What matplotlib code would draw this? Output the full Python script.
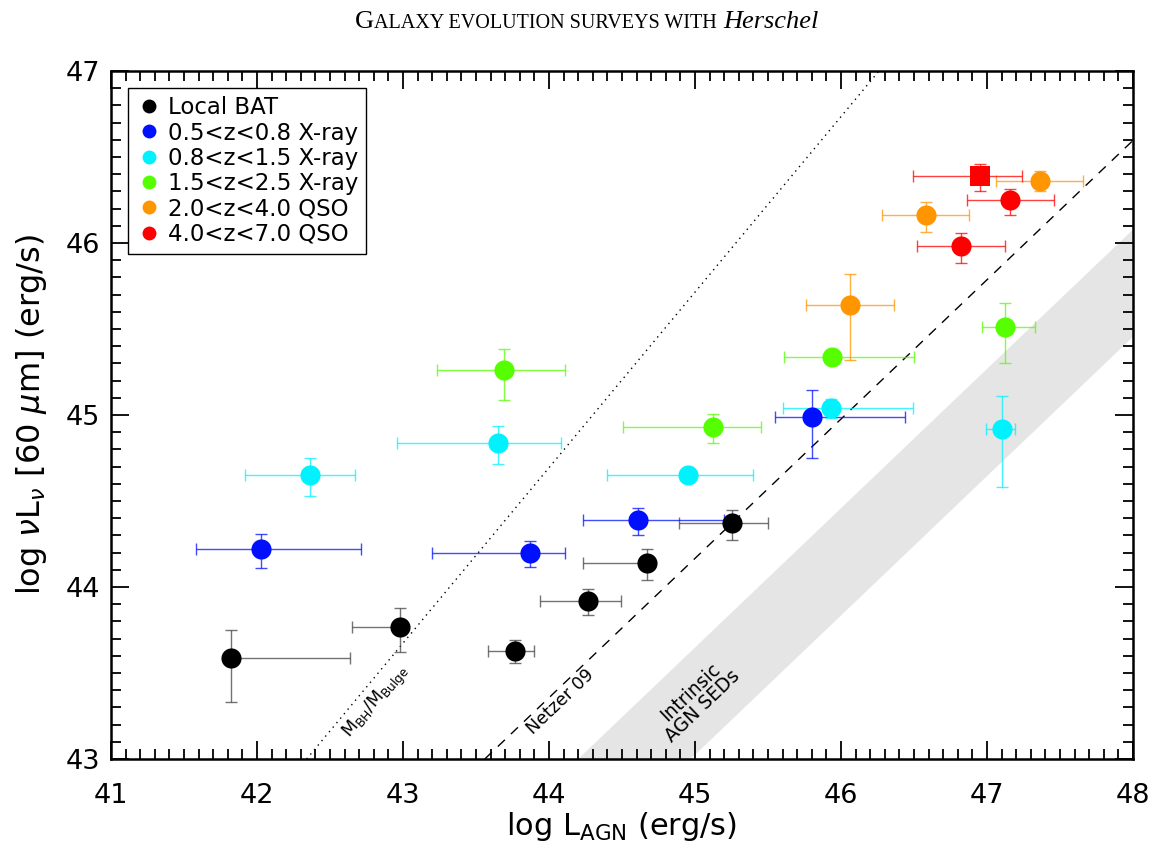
import matplotlib
matplotlib.use("Agg")
import matplotlib.pyplot as plt
import numpy as np
from matplotlib.ticker import MultipleLocator
from matplotlib.lines import Line2D

# ---------------- data ----------------
groups = ["Local BAT", "0.5<z<0.8 X-ray", "0.8<z<1.5 X-ray",
          "1.5<z<2.5 X-ray", "2.0<z<4.0 QSO", "4.0<z<7.0 QSO"]
colors = ["#000000", "#0010FF", "#00F2FF", "#55FF00", "#FF9600", "#FF0000"]

bat_x   = [41.82, 42.98, 43.77, 44.27, 44.67, 45.25]
bat_y   = [43.59, 43.77, 43.63, 43.92, 44.14, 44.37]
bat_xlo = [0.00, 0.33, 0.19, 0.33, 0.44, 0.36]
bat_xhi = [0.82, 0.00, 0.13, 0.22, 0.00, 0.25]
bat_ylo = [0.26, 0.15, 0.07, 0.085, 0.10, 0.095]
bat_yhi = [0.16, 0.11, 0.06, 0.07, 0.08, 0.075]

lz_x   = [42.03, 43.87, 44.61, 45.80]
lz_y   = [44.22, 44.20, 44.39, 44.99]
lz_xlo = [0.45, 0.67, 0.38, 0.25]
lz_xhi = [0.68, 0.24, 0.59, 0.64]
lz_ylo = [0.11, 0.085, 0.09, 0.24]
lz_yhi = [0.09, 0.07, 0.07, 0.155]

mz_x   = [42.36, 43.65, 44.95, 45.93, 47.10]
mz_y   = [44.65, 44.84, 44.65, 45.04, 44.92]
mz_xlo = [0.44, 0.69, 0.55, 0.33, 0.11]
mz_xhi = [0.31, 0.43, 0.45, 0.56, 0.09]
mz_ylo = [0.12, 0.125, 0.02, 0.06, 0.34]
mz_yhi = [0.10, 0.095, 0.02, 0.055, 0.19]

hz_x   = [43.69, 45.12, 45.94, 47.12]
hz_y   = [45.26, 44.93, 45.34, 45.51]
hz_xlo = [0.455, 0.615, 0.33, 0.155]
hz_xhi = [0.42, 0.33, 0.56, 0.21]
hz_ylo = [0.17, 0.09, 0.02, 0.21]
hz_yhi = [0.125, 0.075, 0.02, 0.14]

qso_x   = [46.06, 46.58, 47.36]
qso_y   = [45.64, 46.16, 46.36]
qso_xlo = [0.30, 0.30, 0.30]
qso_xhi = [0.30, 0.30, 0.30]
qso_ylo = [0.32, 0.095, 0.06]
qso_yhi = [0.18, 0.08, 0.06]

hq_x   = [47.16, 46.82]
hq_y   = [46.25, 45.98]
hq_xlo = [0.30, 0.30]
hq_xhi = [0.30, 0.30]
hq_ylo = [0.09, 0.095]
hq_yhi = [0.065, 0.08]

sq_x, sq_y = [46.95], [46.39]
sq_xlo, sq_xhi = [0.46], [0.29]
sq_ylo, sq_yhi = [0.09], [0.07]

# reference relations
mbh_line_x = [42.34, 46.26]
mbh_line_y = [43.0, 47.0]
netzer_slope, netzer_x0 = 0.81, 43.56        # y = 43 + slope*(x - x0)
band_slope, band_x0_up, band_x0_lo = 0.81, 44.20, 44.97

xticks = [41, 42, 43, 44, 45, 46, 47, 48]
yticks = [43, 44, 45, 46, 47]

# ---------------- figure ----------------
plt.rcParams['font.family'] = ['DejaVu Sans']
plt.rcParams['mathtext.fontset'] = 'dejavusans'
fig = plt.figure(figsize=(11.57, 8.52), dpi=100)
ax = fig.add_axes([111/1157, 1-759/852, (1133-111)/1157, (759-71)/852])
ax.set_xlim(41, 48)
ax.set_ylim(43, 47)

# band
bx = np.array([41.0, 48.0])
ax.fill_between(bx, 43 + band_slope*(bx - band_x0_lo), 43 + band_slope*(bx - band_x0_up),
                color="#E5E5E5", lw=0, zorder=0)
# lines
ax.plot(mbh_line_x, mbh_line_y, color="black", lw=1.0, ls=(0, (1, 3.2)), zorder=1)
nx = np.array([netzer_x0, 48.0])
ax.plot(nx, 43 + netzer_slope*(nx - netzer_x0), color="black", lw=1.0, ls=(0, (7, 6)), zorder=1)

sets = [
    (bat_x, bat_y, bat_xlo, bat_xhi, bat_ylo, bat_yhi, 0, 'o'),
    (lz_x, lz_y, lz_xlo, lz_xhi, lz_ylo, lz_yhi, 1, 'o'),
    (mz_x, mz_y, mz_xlo, mz_xhi, mz_ylo, mz_yhi, 2, 'o'),
    (hz_x, hz_y, hz_xlo, hz_xhi, hz_ylo, hz_yhi, 3, 'o'),
    (qso_x, qso_y, qso_xlo, qso_xhi, qso_ylo, qso_yhi, 4, 'o'),
    (hq_x, hq_y, hq_xlo, hq_xhi, hq_ylo, hq_yhi, 5, 'o'),
    (sq_x, sq_y, sq_xlo, sq_xhi, sq_ylo, sq_yhi, 5, 's'),
]
for (x, y, xlo, xhi, ylo, yhi, ci, mk) in sets:
    c = colors[ci]
    ec = "#444444" if ci == 0 else c
    ax.errorbar(x, y, xerr=[xlo, xhi], yerr=[ylo, yhi], fmt='none', ecolor=ec,
                elinewidth=1.0, capsize=4, capthick=1.0, alpha=0.75, zorder=3)
    ax.plot(x, y, ls='none', marker=mk, ms=14.5, mfc=c, mec=c, mew=0, zorder=4)

leg_handles = [Line2D([], [], ls='none', marker='o', ms=10, mfc=c, mec=c, mew=0) for c in colors]
leg = ax.legend(leg_handles, groups, loc='upper left', bbox_to_anchor=(0.0166, 0.975),
                borderaxespad=0, fontsize=16.5, frameon=True, fancybox=False,
                edgecolor='black', framealpha=1, handlelength=1.15, handletextpad=0.25,
                labelspacing=0.1, borderpad=0.35)
leg.get_frame().set_linewidth(1.0)

# annotations
ax.text(42.82, 43.33, r"M$_\mathrm{BH}$/M$_\mathrm{Bulge}$", rotation=49.5, fontsize=12.5,
        ha='center', va='center', rotation_mode='anchor')
ax.text(44.08, 43.33, "Netzer 09", rotation=43.7, fontsize=12.5,
        ha='center', va='center', rotation_mode='anchor')
ax.text(45.01, 43.35, "Intrinsic\nAGN SEDs", rotation=43.7, fontsize=13.5,
        ha='center', va='center', rotation_mode='anchor', linespacing=1.0, multialignment='center')

# axes styling
ax.set_xticks(xticks)
ax.set_yticks(yticks)
ax.xaxis.set_minor_locator(MultipleLocator(0.1))
ax.yaxis.set_minor_locator(MultipleLocator(0.1))
ax.tick_params(which='both', direction='in', top=True, right=True, width=1.3, labelsize=19.5)
ax.tick_params(which='major', length=13)
ax.tick_params(which='minor', length=7)
ax.tick_params(axis='x', pad=17)
ax.tick_params(axis='y', pad=8)
for s in ax.spines.values():
    s.set_linewidth(1.8)

ax.set_xlabel(r"log L$_\mathrm{AGN}$ (erg/s)", fontsize=22, labelpad=1)
ax.set_ylabel(r"log $\nu$L$_\nu$ [60 $\mu$m] (erg/s)", fontsize=23, labelpad=12)

# title with small caps
pieces = [("G", 19, 'normal'), ("ALAXY EVOLUTION SURVEYS WITH", 14.5, 'normal'),
          (" ", 19, 'normal'), ("Herschel", 19, 'italic')]
r = fig.canvas.get_renderer()
objs, widths = [], []
for txt, fs, st in pieces:
    if txt == " ":
        t = fig.text(0, 0, "n", fontsize=fs, family='Liberation Serif')
        w = t.get_window_extent(r).width * 0.5
        t.remove()
        objs.append(None); widths.append(w)
        continue
    t = fig.text(0, 1 - 28/852, txt, fontsize=fs, style=st, family='Liberation Serif',
                 va='baseline', ha='left')
    objs.append(t); widths.append(t.get_window_extent(r).width)
total = sum(widths)
xpos = 587 - total/2
for t, w in zip(objs, widths):
    if t is not None:
        t.set_x(xpos/1157)
    xpos += w

fig.savefig("out.png", dpi=100)
